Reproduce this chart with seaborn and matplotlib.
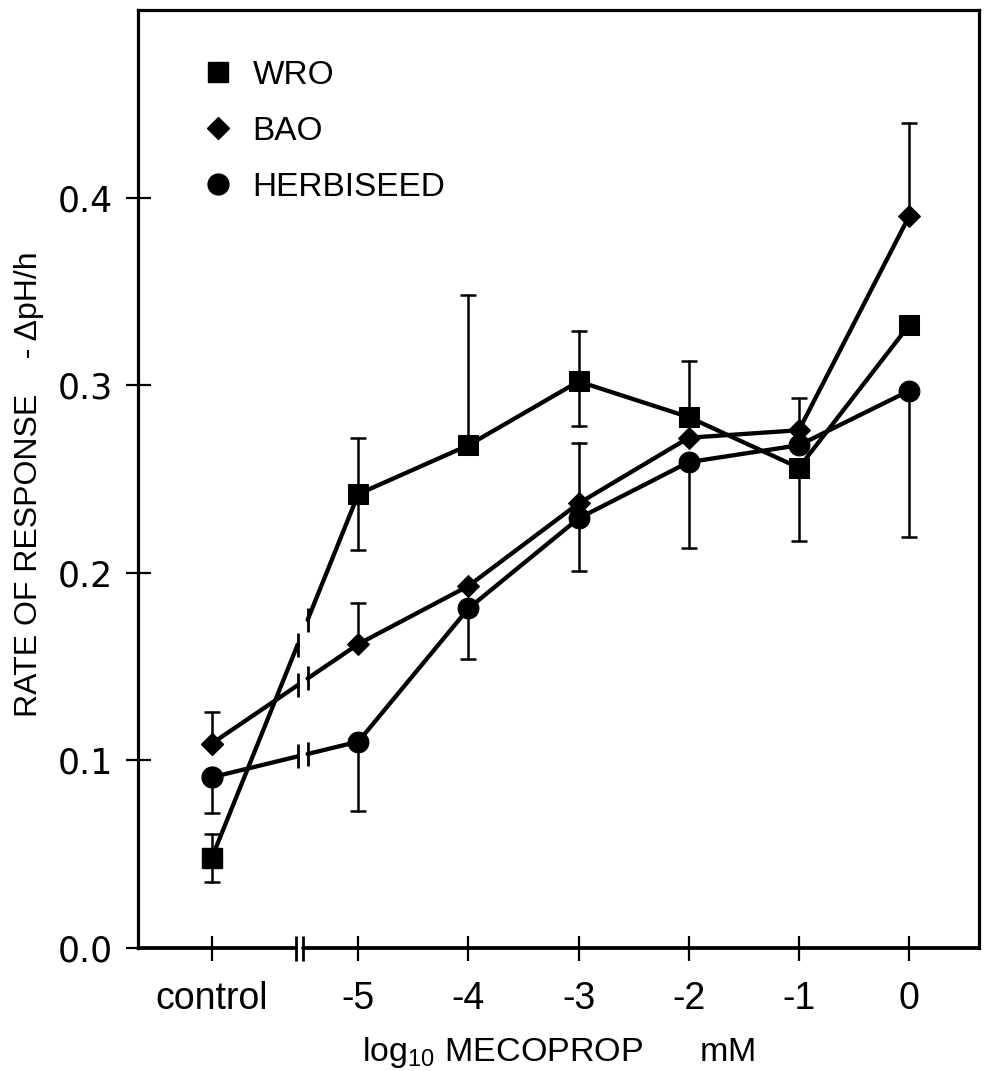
import numpy as np
import pandas as pd
import matplotlib
matplotlib.use("Agg")
import matplotlib.pyplot as plt
import seaborn as sns
from matplotlib.lines import Line2D

# values (rate of response, -dpH/h)
x_labels = ["control", "-5", "-4", "-3", "-2", "-1", "0"]
x_pos = [-6.33, -5, -4, -3, -2, -1, 0]

wro = [0.048, 0.242, 0.268, 0.302, 0.283, 0.256, 0.332]
wro_up = [0.061, 0.272, 0.348, 0.329, 0.313, np.nan, np.nan]
wro_lo = [0.035, 0.212, np.nan, 0.278, np.nan, 0.217, np.nan]

bao = [0.109, 0.162, 0.193, 0.237, 0.272, 0.276, 0.390]
bao_up = [0.126, 0.184, np.nan, 0.269, np.nan, 0.293, 0.440]
bao_lo = [np.nan] * 7

herb = [0.091, 0.110, 0.181, 0.229, 0.259, 0.268, 0.297]
herb_up = [np.nan] * 7
herb_lo = [0.072, 0.073, 0.154, 0.201, 0.213, np.nan, 0.219]

series = [
    ("WRO", wro, wro_up, wro_lo, "s", 14),
    ("BAO", bao, bao_up, bao_lo, "D", 11),
    ("HERBISEED", herb, herb_up, herb_lo, "o", 15),
]

# axis break between control and -5
line_break = (-5.55, -5.46)
axis_break = (-5.57, -5.50)

sns.set_style("ticks")
plt.rcParams["font.family"] = ["Liberation Sans", "DejaVu Sans"]
plt.rcParams["mathtext.fontset"] = "custom"
plt.rcParams["mathtext.rm"] = "Liberation Sans"
for k in ["text.color", "axes.labelcolor", "xtick.color", "ytick.color", "axes.edgecolor"]:
    plt.rcParams[k] = "black"

fig = plt.figure(figsize=(9.86, 10.71), dpi=100)
ax = fig.add_axes([138 / 986, 123 / 1071, 841 / 986, 938 / 1071])

lw = 3.1
for name, y, up, lo, mk, ms in series:
    df = pd.DataFrame({"x": x_pos[1:], "y": y[1:]})
    sns.lineplot(data=df, x="x", y="y", ax=ax, color="k", lw=lw, marker=mk,
                 markersize=ms, markeredgecolor="k", sort=False, legend=False,
                 errorbar=None, zorder=4)
    ax.plot(x_pos[0], y[0], marker=mk, ms=ms, color="k", ls="none", zorder=4)
    # broken segment from control to -5
    yb = np.interp(line_break, [x_pos[0], x_pos[1]], [y[0], y[1]])
    ax.plot([x_pos[0], line_break[0]], [y[0], yb[0]], color="k", lw=lw, zorder=3)
    ax.plot([line_break[1], x_pos[1]], [yb[1], y[1]], color="k", lw=lw, zorder=3)
    ax.plot(line_break, yb, ls="none", marker="|", ms=17, mew=2, color="k", zorder=3)
    # one-sided error bars
    for ends in (up, lo):
        for xi, yi, e in zip(x_pos, y, ends):
            if np.isnan(e):
                continue
            ax.plot([xi, xi], [yi, e], color="k", lw=1.8, zorder=2)
            ax.plot(xi, e, marker="_", ms=11, mew=1.8, color="k", zorder=2)

ax.set_xlim(-7.0, 0.635)
ax.set_ylim(0, 0.5)
ax.set_xticks(x_pos)
ax.set_xticklabels(x_labels, fontsize=27)
ax.set_yticks([0, 0.1, 0.2, 0.3, 0.4])
ax.set_yticklabels(["0.0", "0.1", "0.2", "0.3", "0.4"])
ax.tick_params(axis="both", direction="inout", length=18, width=1.6, color="k")
ax.tick_params(axis="x", pad=15)
ax.tick_params(axis="y", pad=9)
ax.tick_params(top=False, right=False)
for t in ax.get_yticklabels():
    t.set_fontfamily("DejaVu Sans")
    t.set_fontsize(25)

for side in ["left", "top", "right"]:
    ax.spines[side].set_visible(True)
    ax.spines[side].set_linewidth(2.3)
ax.spines["bottom"].set_visible(False)
ax.plot([-7.0, axis_break[0]], [0, 0], color="k", lw=2.7, clip_on=False, zorder=5)
ax.plot([axis_break[1], 0.635], [0, 0], color="k", lw=2.7, clip_on=False, zorder=5)
ax.plot(axis_break, [0, 0], ls="none", marker="|", ms=18, mew=2, color="k", clip_on=False, zorder=5)

ax.set_xlabel("log$_\\mathrm{10}$ MECOPROP      mM", fontsize=24.5)
ax.xaxis.set_label_coords(0.5, -0.093)
ax.set_ylabel("RATE OF RESPONSE    - \u0394pH/h", fontsize=23)
ax.yaxis.set_label_coords(-0.112, 0.495)

handles = [Line2D([], [], ls="none", marker=mk, ms=ms, color="k") for _, _, _, _, mk, ms in series]
ax.legend(handles, [s[0] for s in series], loc="upper left", bbox_to_anchor=(0.075, 0.947),
          frameon=False, fontsize=24, handlelength=1.0, handletextpad=0.55,
          labelspacing=0.75, borderpad=0, borderaxespad=0)

fig.savefig("out.png", dpi=100, facecolor="white")
